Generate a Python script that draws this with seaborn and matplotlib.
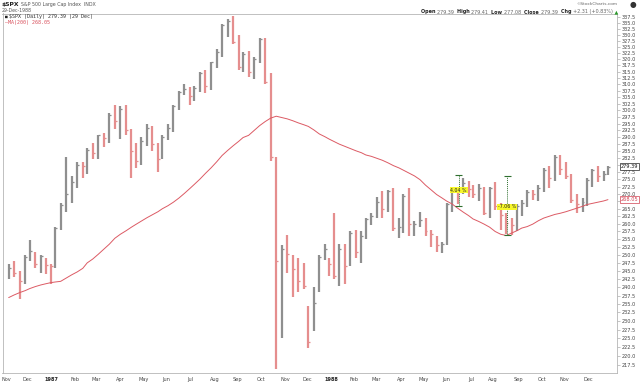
import numpy as np
import pandas as pd
import matplotlib
matplotlib.use("Agg")
import matplotlib.pyplot as plt
import matplotlib.transforms as mtransforms
from matplotlib.ticker import FixedLocator, FixedFormatter, NullLocator
import seaborn as sns

# trading calendar (index 0 = first session of Nov 1986)
START = "1986-11-03"
HOLIDAYS = ["1986-11-27", "1986-12-25", "1987-01-01", "1987-02-16", "1987-04-17",
            "1987-05-25", "1987-07-03", "1987-09-07", "1987-11-26", "1987-12-25",
            "1988-01-01", "1988-02-15", "1988-04-01", "1988-05-30", "1988-07-04",
            "1988-09-05", "1988-11-24", "1988-12-26"]

# weekly bars (week ending Friday)
week_end = pd.date_range("1986-11-07", "1988-12-30", freq="W-FRI")

high = [247.0, 248.0, 245.0, 250.0,
        254.9, 251.0, 250.0, 249.0,
        247.0, 259.0, 267.0, 283.0, 276.0,
        281.0, 281.0, 286.0, 288.0,
        291.0, 291.5, 299.0, 301.9,
        301.5, 302.0, 293.0, 288.0,
        290.0, 295.0, 294.0, 288.0, 291.0,
        295.0, 302.0, 307.5, 310.0,
        309.0, 309.5, 315.0, 315.5, 319.0,
        324.0, 334.5, 336.5, 337.9,
        330.0, 323.0, 323.5, 321.0,
        328.6, 328.6, 314.5, 282.7, 253.0,
        256.5, 250.0, 249.0, 247.5,
        234.5, 240.0, 250.0, 253.5,
        249.0, 263.5, 253.5, 253.5, 257.5,
        258.0, 257.5, 262.0, 263.5,
        269.0, 271.0, 271.5, 272.0,
        262.0, 270.0, 272.0, 261.0, 264.0,
        262.0, 258.0, 256.0, 254.0,
        267.0, 272.0, 272.0, 275.5,
        274.5, 273.0, 273.5, 272.5, 272.5,
        274.0, 267.0, 263.5, 262.0,
        266.5, 268.0, 271.5, 271.5, 273.0,
        279.0, 279.5, 283.7, 283.5,
        281.0, 277.0, 270.0, 268.5,
        275.5, 278.5, 279.5, 278.0, 279.6]

low = [242.5, 243.0, 236.5, 241.0,
       248.0, 246.0, 244.5, 244.0,
       241.0, 246.0, 258.0, 264.0, 267.0,
       272.0, 275.5, 277.0, 282.0,
       282.0, 286.5, 288.0, 293.0,
       289.5, 291.0, 275.5, 279.0,
       280.0, 287.0, 285.0, 277.5, 282.0,
       289.0, 292.0, 300.0, 306.0,
       302.0, 303.5, 307.0, 306.5, 308.0,
       316.5, 321.0, 329.0, 326.0,
       315.5, 315.0, 313.0, 312.0,
       318.5, 310.0, 281.5, 216.5, 225.0,
       244.5, 237.0, 238.5, 239.5,
       222.3, 227.0, 238.5, 248.5,
       243.5, 242.5, 240.5, 241.0, 246.5,
       249.0, 247.5, 255.0, 259.5,
       262.0, 262.0, 264.0, 257.5,
       255.5, 257.0, 256.0, 256.0, 259.0,
       256.0, 252.5, 251.0, 250.5,
       253.0, 264.0, 266.5, 270.0,
       269.0, 268.5, 267.5, 263.0, 262.0,
       264.5, 258.0, 256.7, 256.3,
       257.5, 262.5, 265.5, 268.0, 267.5,
       270.5, 272.0, 274.5, 276.5,
       275.0, 267.0, 263.5, 264.0,
       266.0, 272.5, 274.0, 274.5, 276.5]

close = [245.8, 244.5, 242.0, 249.2,
         251.2, 247.3, 249.7, 246.8,
         246.5, 258.7, 266.3, 270.1, 274.1,
         280.0, 279.7, 285.5, 284.2,
         290.7, 289.9, 298.2, 296.1,
         300.5, 292.5, 285.0, 281.5,
         288.5, 293.4, 287.4, 282.2, 290.1,
         293.5, 301.6, 306.9, 308.1,
         305.6, 308.4, 314.6, 309.3, 318.7,
         323.0, 334.0, 335.9, 327.0,
         316.7, 322.0, 314.9, 320.2,
         328.1, 311.1, 282.7, 248.2, 251.8,
         250.4, 245.6, 242.0, 240.3,
         223.9, 235.3, 249.2, 252.0,
         247.1, 243.4, 252.0, 246.5, 257.1,
         251.0, 256.0, 261.6, 262.5,
         267.3, 264.9, 271.1, 258.5,
         258.9, 269.4, 259.8, 260.1, 261.3,
         257.5, 256.8, 253.0, 253.4,
         266.5, 271.3, 270.7, 273.8,
         271.8, 270.0, 272.1, 263.5, 272.0,
         265.9, 262.8, 260.2, 259.7,
         265.9, 266.8, 270.7, 269.8, 271.9,
         278.1, 275.5, 283.0, 278.5,
         276.3, 267.9, 266.5, 267.2,
         274.9, 278.2, 276.3, 276.9, 279.4]

ma200 = [236.9, 237.7, 238.4, 239.0,
         239.6, 240.2, 240.7, 241.1,
         241.4, 241.6, 241.8, 242.8, 243.8,
         244.7, 245.8, 247.5, 248.7,
         250.2, 251.8, 253.4, 255.3,
         256.6, 257.7, 258.9, 259.8,
         260.9, 262.0, 263.0, 264.0, 265.0,
         266.0, 267.2, 268.6, 270.2,
         271.9, 273.3, 275.1, 277.1, 279.0,
         281.1, 283.4, 285.2, 286.9,
         288.5, 289.9, 290.7, 292.5,
         294.3, 295.8, 297.1, 297.8, 297.3,
         296.8, 296.1, 295.3, 294.6,
         294.0, 292.7, 291.2, 290.2,
         289.3, 288.5, 287.5, 286.7, 285.9,
         285.1, 284.4, 283.6, 283.1,
         282.4, 281.7, 280.8, 279.8,
         279.0, 278.2, 277.2, 276.2, 274.9,
         273.0, 271.4, 269.8, 268.6,
         267.6, 266.6, 265.2, 263.9,
         262.7, 261.6, 260.8, 259.9, 258.9,
         257.5, 256.6, 256.2, 257.0,
         257.8, 258.6, 259.1, 259.9, 261.0,
         261.9, 262.5, 263.1, 263.5,
         264.0, 264.6, 265.2, 265.8,
         266.4, 266.8, 267.2, 267.6, 268.05]

# percent-change annotations
ann_dates = ["1988-06-16", "1988-08-18"]
ann_lo = [265.8, 256.5]
ann_hi = [276.5, 276.0]
ann_label_y = [271.3, 265.6]
ann_text = ["4.04 %", "-7.06 %"]

y_ticks = np.arange(217.5, 337.6, 2.5)
# labels hidden behind the last-value tags
hidden_ticks = [280.0, 267.5]

# ---------------------------------------------------------------
def tday(dates):
    d = np.asarray(pd.to_datetime(dates).values.astype("datetime64[D]"))
    return np.busday_count(np.datetime64(START), d, holidays=HOLIDAYS)

x_bar = tday(week_end - pd.Timedelta(days=2))
close_a = np.array(close)
prev = np.r_[close_a[0] - 1, close_a[:-1]]
bar_colors = np.where(close_a >= prev, "#8f8f8f", "#e58e8e")

sns.set_style("white")
plt.rcParams["font.family"] = ["DejaVu Sans"]

fig = plt.figure(figsize=(6.4, 3.82), dpi=100)
W, H = 640, 382
ax = fig.add_axes([2.5 / W, 9 / H, (617 - 2.5) / W, (373 - 13.5) / H])

ax.vlines(x_bar, low, high, colors=bar_colors, lw=1.6)
ax.hlines(close, x_bar, x_bar + 1.8, colors=bar_colors, lw=0.9)
sns.lineplot(x=x_bar, y=ma200, ax=ax, color="#dc5a64", lw=0.7)

ax.set_yscale("log")
ax.set_xlim(-3.6, 552.2)
ax.set_ylim(215.4, 339.0)

ax.yaxis.tick_right()
ax.yaxis.set_major_locator(FixedLocator(y_ticks))
ax.yaxis.set_major_formatter(FixedFormatter(
    ["" if round(v, 1) in hidden_ticks else f"{v:.1f}" for v in y_ticks]))
ax.yaxis.set_minor_locator(NullLocator())
ax.tick_params(axis="y", which="major", labelsize=3.6, labelcolor="#444444",
               length=2, width=0.4, color="#999999", pad=1.5)

months = pd.date_range("1986-11-01", "1988-12-01", freq="MS")
first_days = np.busday_offset(months.values.astype("datetime64[D]"), 0,
                              roll="forward", holidays=HOLIDAYS)
month_idx = np.busday_count(np.datetime64(START), first_days, holidays=HOLIDAYS)
month_lbl = [str(m.year) if m.month == 1 else m.strftime("%b") for m in months]
ax.xaxis.set_major_locator(FixedLocator(month_idx))
ax.xaxis.set_major_formatter(FixedFormatter(month_lbl))
ax.tick_params(axis="x", labelsize=3.6, labelcolor="#444444", length=1.5,
               width=0.4, color="#999999", pad=1.2)
for t, m in zip(ax.get_xticklabels(), months):
    if m.month == 1:
        t.set_fontweight("bold")
        t.set_color("#222222")

for s in ax.spines.values():
    s.set_color("#b5b5b5")
    s.set_linewidth(0.6)

# percent annotations
green = "#2f6f2f"
for d, lo, hi, yl, txt in zip(ann_dates, ann_lo, ann_hi, ann_label_y, ann_text):
    xa = tday([d])[0]
    ax.vlines(xa, lo, hi, colors=green, lw=0.7, linestyles=(0, (1, 1)))
    ax.hlines([lo, hi], xa - 3, xa + 3, colors=green, lw=0.8)
    ax.text(xa, yl, txt, ha="center", va="center", fontsize=3.4, color="#222222",
            bbox=dict(boxstyle="square,pad=0.15", fc="#f7f72a", ec="none"))

# right-edge value tags
trans = mtransforms.blended_transform_factory(ax.transAxes, ax.transData)
ax.text(1.006, close[-1], f"{close[-1] - 0.01:.2f}", transform=trans, ha="left",
        va="center", fontsize=3.6, color="#111111",
        bbox=dict(boxstyle="square,pad=0.2", fc="white", ec="#222222", lw=0.5))
ax.text(1.006, ma200[-1], f"{ma200[-1]:.2f}", transform=trans, ha="left",
        va="center", fontsize=3.6, color="#d04050",
        bbox=dict(boxstyle="square,pad=0.2", fc="white", ec="#d04050", lw=0.5))

# header
fig.text(2 / W, 1 - 4.5 / H, "$SPX", fontsize=4.3, fontweight="bold",
         color="#222222", va="center")
fig.text(21 / W, 1 - 4.5 / H, "S&P 500 Large Cap Index  INDX", fontsize=3.4,
         color="#555555", va="center")
fig.text(2 / W, 1 - 11 / H, "29-Dec-1988", fontsize=3.3, color="#555555",
         va="center")
fig.text(617 / W, 1 - 3.8 / H, "\u00a9StockCharts.com", fontsize=3.2,
         color="#666666", ha="right", va="center")
fig.text(633 / W, 1 - 4 / H, "\u25cf", fontsize=5.5, color="#333333",
         ha="center", va="center")

fig.text(5 / W, 1 - 16.5 / H, "\u25a0", fontsize=3.2, color="#222222",
         va="center", family="DejaVu Sans Mono")
fig.text(9 / W, 1 - 16.5 / H, "$SPX (Daily) 279.39 (29 Dec)", fontsize=3.6,
         color="#333333", va="center", family="DejaVu Sans Mono")
fig.text(5 / W, 1 - 22.5 / H, "\u2014MA(200) 268.05", fontsize=3.6,
         color="#d9505c", va="center", family="DejaVu Sans Mono")

pieces = [("Open ", "bold", "#222222"), ("279.39  ", "normal", "#666666"),
          ("High ", "bold", "#222222"), ("279.41  ", "normal", "#666666"),
          ("Low ", "bold", "#222222"), ("277.08  ", "normal", "#666666"),
          ("Close ", "bold", "#222222"), ("279.39  ", "normal", "#666666"),
          ("Chg ", "bold", "#222222"), ("+2.31 (+0.83%)", "normal", "#666666"),
          (" \u25b2", "normal", "#2a9a2a")]
renderer = fig.canvas.get_renderer()
texts, widths = [], []
for s, w, c in pieces:
    t = fig.text(0, 1 - 12 / H, s.replace(" ", "\u00a0"), fontsize=3.5,
                 fontweight=w, color=c, va="center", ha="left")
    texts.append(t)
    widths.append(t.get_window_extent(renderer).width)
xpos = 618 - sum(widths)
for t, wd in zip(texts, widths):
    t.set_x(xpos / W)
    xpos += wd

fig.savefig("out.png", dpi=100, facecolor="white")
